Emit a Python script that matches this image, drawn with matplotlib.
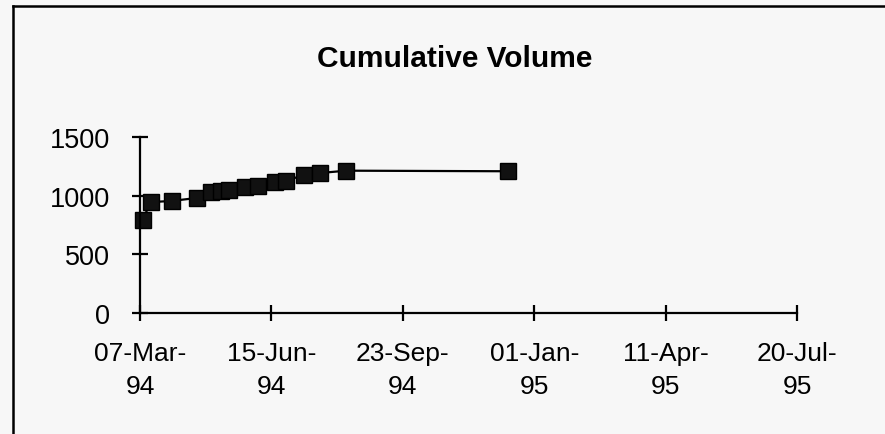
import matplotlib
matplotlib.use("Agg")
import matplotlib.pyplot as plt
from matplotlib.lines import Line2D
import numpy as np

# data
dates = ["1994-03-09", "1994-03-15", "1994-03-31", "1994-04-19", "1994-04-30",
         "1994-05-08", "1994-05-14", "1994-05-26", "1994-06-05", "1994-06-18",
         "1994-06-26", "1994-07-10", "1994-07-22", "1994-08-11", "1994-12-12"]
volume = [790, 945, 955, 980, 1035, 1042, 1048, 1070, 1085, 1114,
          1128, 1176, 1193, 1213, 1208]

tick_dates = ["1994-03-07", "1994-06-15", "1994-09-23",
              "1995-01-01", "1995-04-11", "1995-07-20"]
tick_labels = ["07-Mar-\n94", "15-Jun-\n94", "23-Sep-\n94",
               "01-Jan-\n95", "11-Apr-\n95", "20-Jul-\n95"]
y_ticks = [0, 500, 1000, 1500]

bg = "#f7f7f7"
plt.rcParams["font.family"] = ["Liberation Sans", "DejaVu Sans"]

fig = plt.figure(figsize=(8.85, 4.35), dpi=100, facecolor=bg)
ax = fig.add_axes([140 / 885, 1 - 314 / 435, (797 - 140) / 885, (314 - 138) / 435])
ax.set_facecolor(bg)

x = np.array(dates, dtype="datetime64[D]")
ax.plot(x, volume, color="black", lw=1.6, marker="s", ms=11.5,
        mfc="#111111", mec="black", clip_on=False)

ax.set_xlim(np.datetime64(tick_dates[0]), np.datetime64(tick_dates[-1]))
ax.set_ylim(0, 1500)
ax.set_xticks(np.array(tick_dates, dtype="datetime64[D]"))
ax.set_xticklabels(tick_labels, fontsize=19, linespacing=1.45)
ax.set_yticks(y_ticks)
ax.set_yticklabels([str(v) for v in y_ticks], fontsize=19.5)

for s in ["top", "right"]:
    ax.spines[s].set_visible(False)
for s in ["left", "bottom"]:
    ax.spines[s].set_linewidth(1.6)
ax.tick_params(axis="both", direction="inout", length=11, width=1.6)
ax.tick_params(axis="x", pad=15)
ax.tick_params(axis="y", pad=16)

fig.text(455 / 885, 1 - 59 / 435, "Cumulative Volume", ha="center", va="center",
         fontsize=21.5, fontweight="bold")

# page frame
fig.add_artist(Line2D([13 / 885, 13 / 885], [0, 1 - 7 / 435], color="black", lw=1.8))
fig.add_artist(Line2D([13 / 885, 1], [1 - 7 / 435, 1 - 7 / 435], color="black", lw=1.8))

fig.savefig("out.png", dpi=100, facecolor=bg)
